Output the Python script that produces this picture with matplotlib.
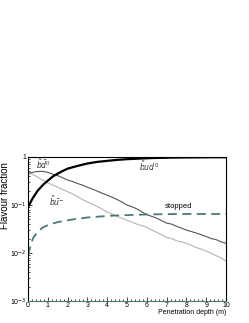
import numpy as np
import matplotlib.pyplot as plt
from matplotlib.ticker import FixedLocator, NullFormatter

plt.rcParams['font.family'] = ['Liberation Sans', 'DejaVu Sans']

# penetration depth (m), sampled every 0.25 m
depth = np.arange(0, 10.01, 0.25)

# b~ud^0 (thick black)
frac_bud = [0.09, 0.14, 0.20, 0.26, 0.32, 0.39, 0.45, 0.51, 0.57, 0.61, 0.65,
            0.69, 0.73, 0.76, 0.79, 0.81, 0.83, 0.85, 0.87, 0.885, 0.90, 0.91,
            0.92, 0.93, 0.94, 0.95, 0.955, 0.96, 0.965, 0.97, 0.973, 0.976,
            0.978, 0.98, 0.982, 0.984, 0.985, 0.986, 0.987, 0.988, 0.989]
# b~dbar^0 (dark grey)
frac_bd = [0.45, 0.48, 0.50, 0.50, 0.48, 0.44, 0.41, 0.37, 0.33, 0.31, 0.28,
           0.26, 0.235, 0.215, 0.195, 0.175, 0.16, 0.145, 0.13, 0.115, 0.10,
           0.092, 0.083, 0.072, 0.063, 0.058, 0.053, 0.047, 0.042, 0.040,
           0.036, 0.033, 0.030, 0.028, 0.026, 0.024, 0.022, 0.020, 0.019,
           0.017, 0.016]
# b~ubar^- (light grey)
frac_bu = [0.48, 0.43, 0.38, 0.33, 0.29, 0.26, 0.235, 0.21, 0.19, 0.17, 0.15,
           0.13, 0.116, 0.105, 0.093, 0.082, 0.071, 0.065, 0.058, 0.053, 0.048,
           0.044, 0.040, 0.037, 0.034, 0.030, 0.027, 0.024, 0.021, 0.020,
           0.018, 0.017, 0.016, 0.0145, 0.013, 0.012, 0.011, 0.0098, 0.0088,
           0.0078, 0.0068]
# stopped (dashed)
frac_stop = [0.009, 0.020, 0.028, 0.034, 0.038, 0.041, 0.044, 0.046, 0.048,
             0.050, 0.052, 0.053, 0.055, 0.056, 0.057, 0.058, 0.059, 0.060,
             0.0605, 0.061, 0.0615, 0.062, 0.0625, 0.063, 0.0635, 0.0638,
             0.064, 0.0642, 0.0644, 0.0646, 0.0648, 0.065, 0.065, 0.065,
             0.065, 0.065, 0.065, 0.065, 0.065, 0.065, 0.065]

teal = '#4d7878'

fig = plt.figure(figsize=(2.49, 3.23), dpi=100)
ax = fig.add_axes([0.112, 0.068, 0.796, 0.446])

ax.plot(depth, frac_bu, color='#b4b4b4', lw=0.8)
ax.plot(depth, frac_bd, color='#555555', lw=0.8)
ax.plot(depth, frac_stop, color=teal, lw=1.3, dashes=(5, 3))
ax.plot(depth, frac_bud, color='black', lw=1.6)

ax.set_yscale('log')
ax.set_xlim(0, 10)
ax.set_ylim(1e-3, 1)

ax.xaxis.set_major_locator(FixedLocator(range(11)))
ax.xaxis.set_minor_locator(FixedLocator(np.arange(0, 10.01, 0.2)))
ax.set_yticks([1e-3, 1e-2, 1e-1, 1])
ax.set_yticklabels(['10$^{-3}$', '10$^{-2}$', '10$^{-1}$', '1'])
ax.yaxis.set_minor_formatter(NullFormatter())
ax.tick_params(which='both', direction='in', labelsize=5, pad=1)
ax.tick_params(which='major', length=3, width=0.5)
ax.tick_params(which='minor', length=1.5, width=0.5)
for sp in ax.spines.values():
    sp.set_linewidth(0.8)
ax.spines['bottom'].set_color(teal)

# ROOT-style axis titles: y title pushed to the top end
fig.text(5.5 / 249, 0.395, 'Flavour fraction', fontsize=7, rotation=90,
         ha='center', va='center')
ax.set_xlabel('Penetration depth (m)', fontsize=5, labelpad=1)
ax.xaxis.set_label_coords(1.0, -0.055)
ax.xaxis.label.set_horizontalalignment('right')

ax.text(0.42, 0.72, r'$\tilde{b}\bar{d}^{0}$', fontsize=5.5, color='#333333',
        va='center')
ax.text(1.05, 0.12, r'$\tilde{b}\bar{u}^{-}$', fontsize=5.5, color='#333333',
        va='center')
ax.text(5.6, 0.65, r'$\tilde{b}ud^{0}$', fontsize=5.5, color='#333333',
        va='center')
ax.text(6.9, 0.092, 'stopped', fontsize=5.5, color='black', va='center')

fig.savefig('out.png', dpi=100)
